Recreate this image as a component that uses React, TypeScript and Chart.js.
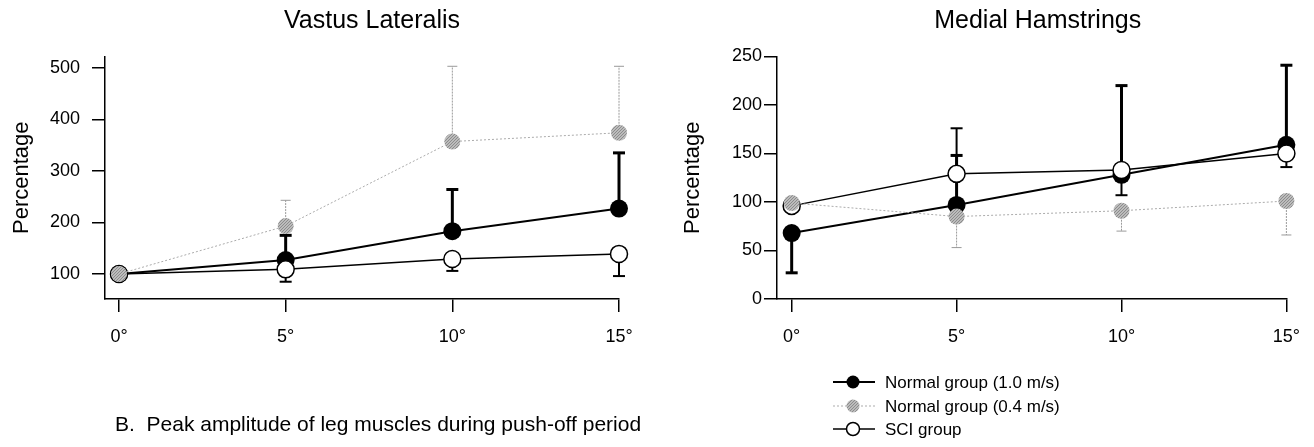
import React, { useEffect, useRef } from 'react';
import { Chart, registerables } from 'chart.js';

Chart.register(...registerables);

const FONT = '"Liberation Sans", Arial, Helvetica, sans-serif';

// ---- data ----
const angles = [0, 5, 10, 15];
const angleTicks = [0, 5, 10, 15];
const seriesNames = ['Normal group (1.0 m/s)', 'Normal group (0.4 m/s)', 'SCI group'];
const panelTitles = ['Vastus Lateralis', 'Medial Hamstrings'];
const yAxisTitle = 'Percentage';
const captionText = 'B.  Peak amplitude of leg muscles during push-off period';

// Vastus Lateralis
const vlTicks = [100, 200, 300, 400, 500];
const vlNormal10 = [100, 127, 183, 227];
const vlNormal10Err = [null, 175, 264, 335];
const vlNormal04 = [100, 193, 357, 374];
const vlNormal04Err = [null, 243, 503, 503];
const vlSci = [100, 109, 129, 139];
const vlSciErr = [null, 85, 106, 96];

// Medial Hamstrings
const mhTicks = [0, 50, 100, 150, 200, 250];
const mhNormal10 = [68, 97, 128, 159];
const mhNormal10Err = [27, 148, 220, 241];
const mhNormal04 = [99, 85, 91, 101];
const mhNormal04Err = [null, 53, 70, 66];
const mhSci = [96, 129, 133, 150];
const mhSciErr = [null, 176, 107, 136];

// ---- plugins ----
const errorBars = {
  id: 'errorBars',
  beforeDatasetsDraw(chart: any) {
    const ctx = chart.ctx;
    const ys = chart.scales.y;
    chart.data.datasets.forEach((ds: any, di: number) => {
      const ends = ds.errEnds;
      if (!ends) return;
      const meta = chart.getDatasetMeta(di);
      ends.forEach((e: number | null, i: number) => {
        if (e == null) return;
        const pt = meta.data[i];
        const x = pt.x;
        const y0 = pt.y;
        const y1 = ys.getPixelForValue(e);
        ctx.save();
        ctx.strokeStyle = ds.errColor;
        ctx.lineWidth = ds.errWidth;
        ctx.setLineDash(ds.errDash || []);
        ctx.beginPath();
        ctx.moveTo(x, y0);
        ctx.lineTo(x, y1);
        ctx.stroke();
        ctx.setLineDash([]);
        ctx.lineWidth = ds.capWidth;
        ctx.beginPath();
        ctx.moveTo(x - ds.capHalf, y1);
        ctx.lineTo(x + ds.capHalf, y1);
        ctx.stroke();
        ctx.restore();
      });
    });
  },
};

const decorations = {
  id: 'decorations',
  afterDraw(chart: any, _args: any, opts: any) {
    const ctx = chart.ctx;
    const ca = chart.chartArea;
    ctx.save();
    ctx.fillStyle = '#000';
    ctx.textBaseline = 'alphabetic';
    if (opts.title) {
      ctx.font = `25px ${FONT}`;
      ctx.textAlign = 'center';
      ctx.fillText(opts.title, (ca.left + ca.right) / 2 + opts.titleDx, opts.titleBaseline);
    }
    if (opts.caption) {
      ctx.font = `21px ${FONT}`;
      ctx.textAlign = 'left';
      ctx.fillText(opts.caption, opts.captionX, opts.captionBaseline);
    }
    if (opts.legend) {
      const lg = opts.legend;
      lg.order.forEach((di: number, row: number) => {
        const ds = chart.data.datasets[di];
        const base = lg.baselines[row];
        const cy = base - 6;
        ctx.save();
        ctx.strokeStyle = ds.borderColor;
        ctx.lineWidth = ds.borderWidth;
        ctx.setLineDash(ds.borderDash || []);
        ctx.beginPath();
        ctx.moveTo(lg.x0, cy);
        ctx.lineTo(lg.x1, cy);
        ctx.stroke();
        ctx.setLineDash([]);
        ctx.beginPath();
        ctx.arc(lg.cx, cy, lg.r, 0, Math.PI * 2);
        ctx.fillStyle = ds.pointBackgroundColor;
        ctx.fill();
        if (ds.pointBorderWidth > 0) {
          ctx.lineWidth = ds.pointBorderWidth;
          ctx.strokeStyle = ds.pointBorderColor;
          ctx.stroke();
        }
        ctx.restore();
        ctx.font = `17px ${FONT}`;
        ctx.textAlign = 'left';
        ctx.fillStyle = '#000';
        ctx.fillText(ds.label, lg.tx, base);
      });
    }
    ctx.restore();
  },
};

function makeStipple(ctx: CanvasRenderingContext2D) {
  const c = document.createElement('canvas');
  c.width = 3;
  c.height = 3;
  const g = c.getContext('2d')!;
  g.fillStyle = '#bcbcbc';
  g.fillRect(0, 0, 3, 3);
  g.fillStyle = '#8c8c8c';
  g.fillRect(0, 0, 1, 1);
  g.fillRect(2, 1, 1, 1);
  g.fillRect(1, 2, 1, 1);
  return ctx.createPattern(c, 'repeat');
}

function buildConfig(panel: any, ctx: CanvasRenderingContext2D): any {
  const stipple = makeStipple(ctx);
  const toPts = (vals: number[]) => angles.map((a, i) => ({ x: a, y: vals[i] }));
  const axisGrid = { display: true, drawOnChartArea: false, drawTicks: true, tickLength: 13, color: '#000', lineWidth: 1.5 };
  const axisBorder = { display: true, color: '#000', width: 1.5 };
  return {
    type: 'line',
    data: {
      datasets: [
        {
          label: seriesNames[0], data: toPts(panel.normal10), errEnds: panel.normal10Err,
          borderColor: '#000', borderWidth: 2, pointRadius: 9, pointHoverRadius: 9,
          pointBackgroundColor: '#000', pointBorderColor: '#000', pointBorderWidth: 0,
          order: 3, errColor: '#000', errWidth: 3, capHalf: 6, capWidth: 3, clip: false, tension: 0,
        },
        {
          label: seriesNames[1], data: toPts(panel.normal04), errEnds: panel.normal04Err,
          borderColor: '#ababab', borderWidth: 1, borderDash: [2, 2], pointRadius: 8, pointHoverRadius: 8,
          pointBackgroundColor: stipple, pointBorderColor: '#aaa', pointBorderWidth: 0,
          order: 1, errColor: '#9a9a9a', errWidth: 1, errDash: [2, 1], capHalf: 5, capWidth: 1, clip: false, tension: 0,
        },
        {
          label: seriesNames[2], data: toPts(panel.sci), errEnds: panel.sciErr,
          borderColor: '#000', borderWidth: 1.5, pointRadius: 8.5, pointHoverRadius: 8.5,
          pointBackgroundColor: '#fff', pointBorderColor: '#000', pointBorderWidth: 1.5,
          order: 2, errColor: '#000', errWidth: 2, capHalf: 6, capWidth: 2, clip: false, tension: 0,
        },
      ],
    },
    options: {
      animation: false,
      responsive: false,
      devicePixelRatio: 1,
      events: [],
      layout: { padding: { left: 0, right: panel.padRight, top: 56.5, bottom: 0 } },
      plugins: {
        legend: { display: false },
        tooltip: { enabled: false },
        decorations: panel.decorations,
      },
      scales: {
        x: {
          type: 'linear',
          min: panel.xMin,
          max: 15,
          afterBuildTicks: (s: any) => { s.ticks = angleTicks.map((v) => ({ value: v })); },
          afterFit: (s: any) => { s.height = 447 - 299; },
          grid: axisGrid,
          border: axisBorder,
          ticks: {
            color: '#000', font: { family: FONT, size: 18 }, padding: 14,
            maxRotation: 0, autoSkip: false,
            callback: (v: any) => `${v}°`,
          },
        },
        y: {
          type: 'linear',
          min: panel.yMin,
          max: panel.yMax,
          afterBuildTicks: (s: any) => { s.ticks = panel.yTicks.map((v: number) => ({ value: v })); },
          afterFit: (s: any) => { s.width = panel.yWidth; },
          grid: axisGrid,
          border: axisBorder,
          ticks: { color: '#000', font: { family: FONT, size: 18 }, padding: panel.yLabelPad },
          title: {
            display: true, text: yAxisTitle, color: '#000',
            font: { family: FONT, size: 22 },
            padding: { top: panel.yTitlePad, bottom: 0 },
          },
        },
      },
    },
    plugins: [errorBars, decorations],
  };
}

const LEFT_W = 830;

const leftPanel = {
  normal10: vlNormal10, normal10Err: vlNormal10Err,
  normal04: vlNormal04, normal04Err: vlNormal04Err,
  sci: vlSci, sciErr: vlSciErr,
  yTicks: vlTicks, yMin: 51.5, yMax: 522,
  xMin: -0.42, yWidth: 105, padRight: LEFT_W - 619, yLabelPad: 12, yTitlePad: 9,
  decorations: {
    title: panelTitles[0], titleDx: 10, titleBaseline: 28,
    caption: captionText, captionX: 115, captionBaseline: 431,
  },
};

const rightPanel = {
  normal10: mhNormal10, normal10Err: mhNormal10Err,
  normal04: mhNormal04, normal04Err: mhNormal04Err,
  sci: mhSci, sciErr: mhSciErr,
  yTicks: mhTicks, yMin: 0, yMax: 250,
  xMin: -0.445, yWidth: 117, padRight: 17, yLabelPad: 2, yTitlePad: 20,
  decorations: {
    title: panelTitles[1], titleDx: 6, titleBaseline: 28,
    legend: { order: [0, 1, 2], baselines: [388, 412, 435], x0: 173, x1: 215, cx: 193, r: 6.5, tx: 225 },
  },
};

export default function App() {
  const leftRef = useRef<HTMLCanvasElement>(null);
  const rightRef = useRef<HTMLCanvasElement>(null);

  useEffect(() => {
    document.body.style.margin = '0';
    const charts: Chart[] = [];
    if (leftRef.current) {
      const ctx = leftRef.current.getContext('2d')!;
      charts.push(new Chart(leftRef.current, buildConfig(leftPanel, ctx)));
    }
    if (rightRef.current) {
      const ctx = rightRef.current.getContext('2d')!;
      charts.push(new Chart(rightRef.current, buildConfig(rightPanel, ctx)));
    }
    return () => charts.forEach((c) => c.destroy());
  }, []);

  return (
    <div style={{ position: 'relative', width: 1314, height: 447, background: '#fff' }}>
      <canvas ref={leftRef} width={LEFT_W} height={447}
        style={{ position: 'absolute', left: 0, top: 0, width: LEFT_W, height: 447 }} />
      <canvas ref={rightRef} width={654} height={447}
        style={{ position: 'absolute', left: 660, top: 0, width: 654, height: 447 }} />
    </div>
  );
}
